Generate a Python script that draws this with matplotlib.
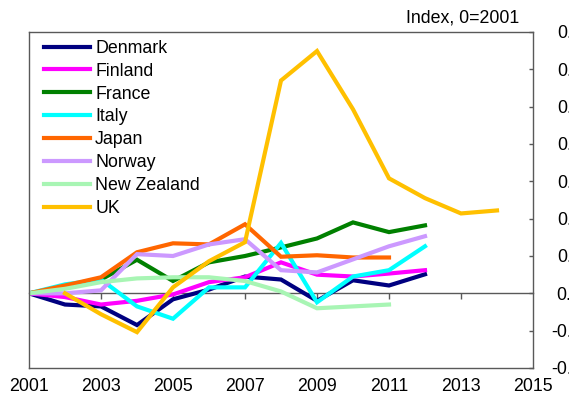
import matplotlib
matplotlib.use("Agg")
import matplotlib.pyplot as plt
import numpy as np

plt.rcParams['font.family'] = ['Liberation Sans', 'DejaVu Sans']
plt.rcParams['axes.unicode_minus'] = False

years = list(range(2001, 2015))
denmark = [0.0, -0.03, -0.035, -0.085, -0.016, 0.01, 0.045, 0.037, -0.02, 0.035, 0.021, 0.051]
finland = [0.0, -0.01, -0.03, -0.02, -0.003, 0.03, 0.043, 0.083, 0.05, 0.045, 0.053, 0.062]
france = [0.0, 0.016, 0.037, 0.09, 0.033, 0.083, 0.1, 0.123, 0.147, 0.19, 0.164, 0.182]
italy = [0.0, 0.024, 0.037, -0.035, -0.068, 0.016, 0.016, 0.135, -0.024, 0.045, 0.062, 0.126]
japan = [0.0, 0.021, 0.043, 0.11, 0.134, 0.131, 0.185, 0.098, 0.102, 0.096, 0.096]
norway = [0.0, 0.0, 0.008, 0.105, 0.1, 0.131, 0.145, 0.062, 0.056, 0.091, 0.126, 0.153]
new_zealand = [0.0, 0.012, 0.03, 0.04, 0.043, 0.043, 0.033, 0.005, -0.04, -0.035, -0.03]
uk = [None, 0.0, -0.056, -0.104, 0.016, 0.086, 0.137, 0.57, 0.649, 0.493, 0.308, 0.255, 0.214, 0.222]

series = [
    ("Denmark", denmark, "#000080"),
    ("Finland", finland, "#FF00FF"),
    ("France", france, "#008000"),
    ("Italy", italy, "#00FFFF"),
    ("Japan", japan, "#FF6600"),
    ("Norway", norway, "#CC99FF"),
    ("New Zealand", new_zealand, "#A8F5B4"),
    ("UK", uk, "#FFC000"),
]

xticks = list(range(2001, 2016, 2))
yticks = [-0.2, -0.1, 0.0, 0.1, 0.2, 0.3, 0.4, 0.5, 0.6, 0.7]
ymin, ymax = -0.2, 0.7

fig = plt.figure(figsize=(5.69, 4.0), dpi=100)
ax = fig.add_axes([29/569, 32/400, 504/569, 336/400])

for name, vals, col in series:
    xs = [y for y, v in zip(years, vals) if v is not None]
    vs = [v for v in vals if v is not None]
    ax.plot(xs, vs, color=col, lw=3.0, label=name, solid_joinstyle='miter')

ax.set_xlim(2001, 2015)
ax.set_ylim(ymin, ymax)

spine_col = '#595959'
for s in ax.spines.values():
    s.set_color(spine_col)
    s.set_linewidth(1.0)

ax.set_xticks(xticks)
ax.set_xticklabels([str(x) for x in xticks])
ax.tick_params(axis='x', length=0, pad=7, labelsize=12.75, colors='black')

ax.yaxis.tick_right()
ax.set_yticks(yticks)
ax.set_yticklabels([f"{v:.1f}" for v in yticks], ha='right')
ax.tick_params(axis='y', direction='in', length=3, width=1.0, color=spine_col,
               pad=35, labelsize=12.75)

# zero line with downward ticks
zero_pos = (0 - ymin) / (ymax - ymin)
sec = ax.secondary_xaxis(zero_pos)
sec.set_alignment('bottom')
sec.set_xticks(xticks[1:-1])
sec.tick_params(axis='x', direction='out', length=4.3, width=1.0, color=spine_col,
                labelbottom=False, labeltop=False)
sec.spines['bottom'].set_color(spine_col)
sec.spines['bottom'].set_linewidth(1.0)

leg = ax.legend(loc='upper left', bbox_to_anchor=(6/504, 1.0 + 1/336), frameon=False, fontsize=12.75,
                handlelength=2.6, handletextpad=0.3, labelspacing=0.33,
                borderaxespad=0.15, borderpad=0.35)

fig.text(519/569, 1 - 18/400, "Index, 0=2001", ha='right', va='center', fontsize=12.75)

fig.savefig("out.png", dpi=100)
